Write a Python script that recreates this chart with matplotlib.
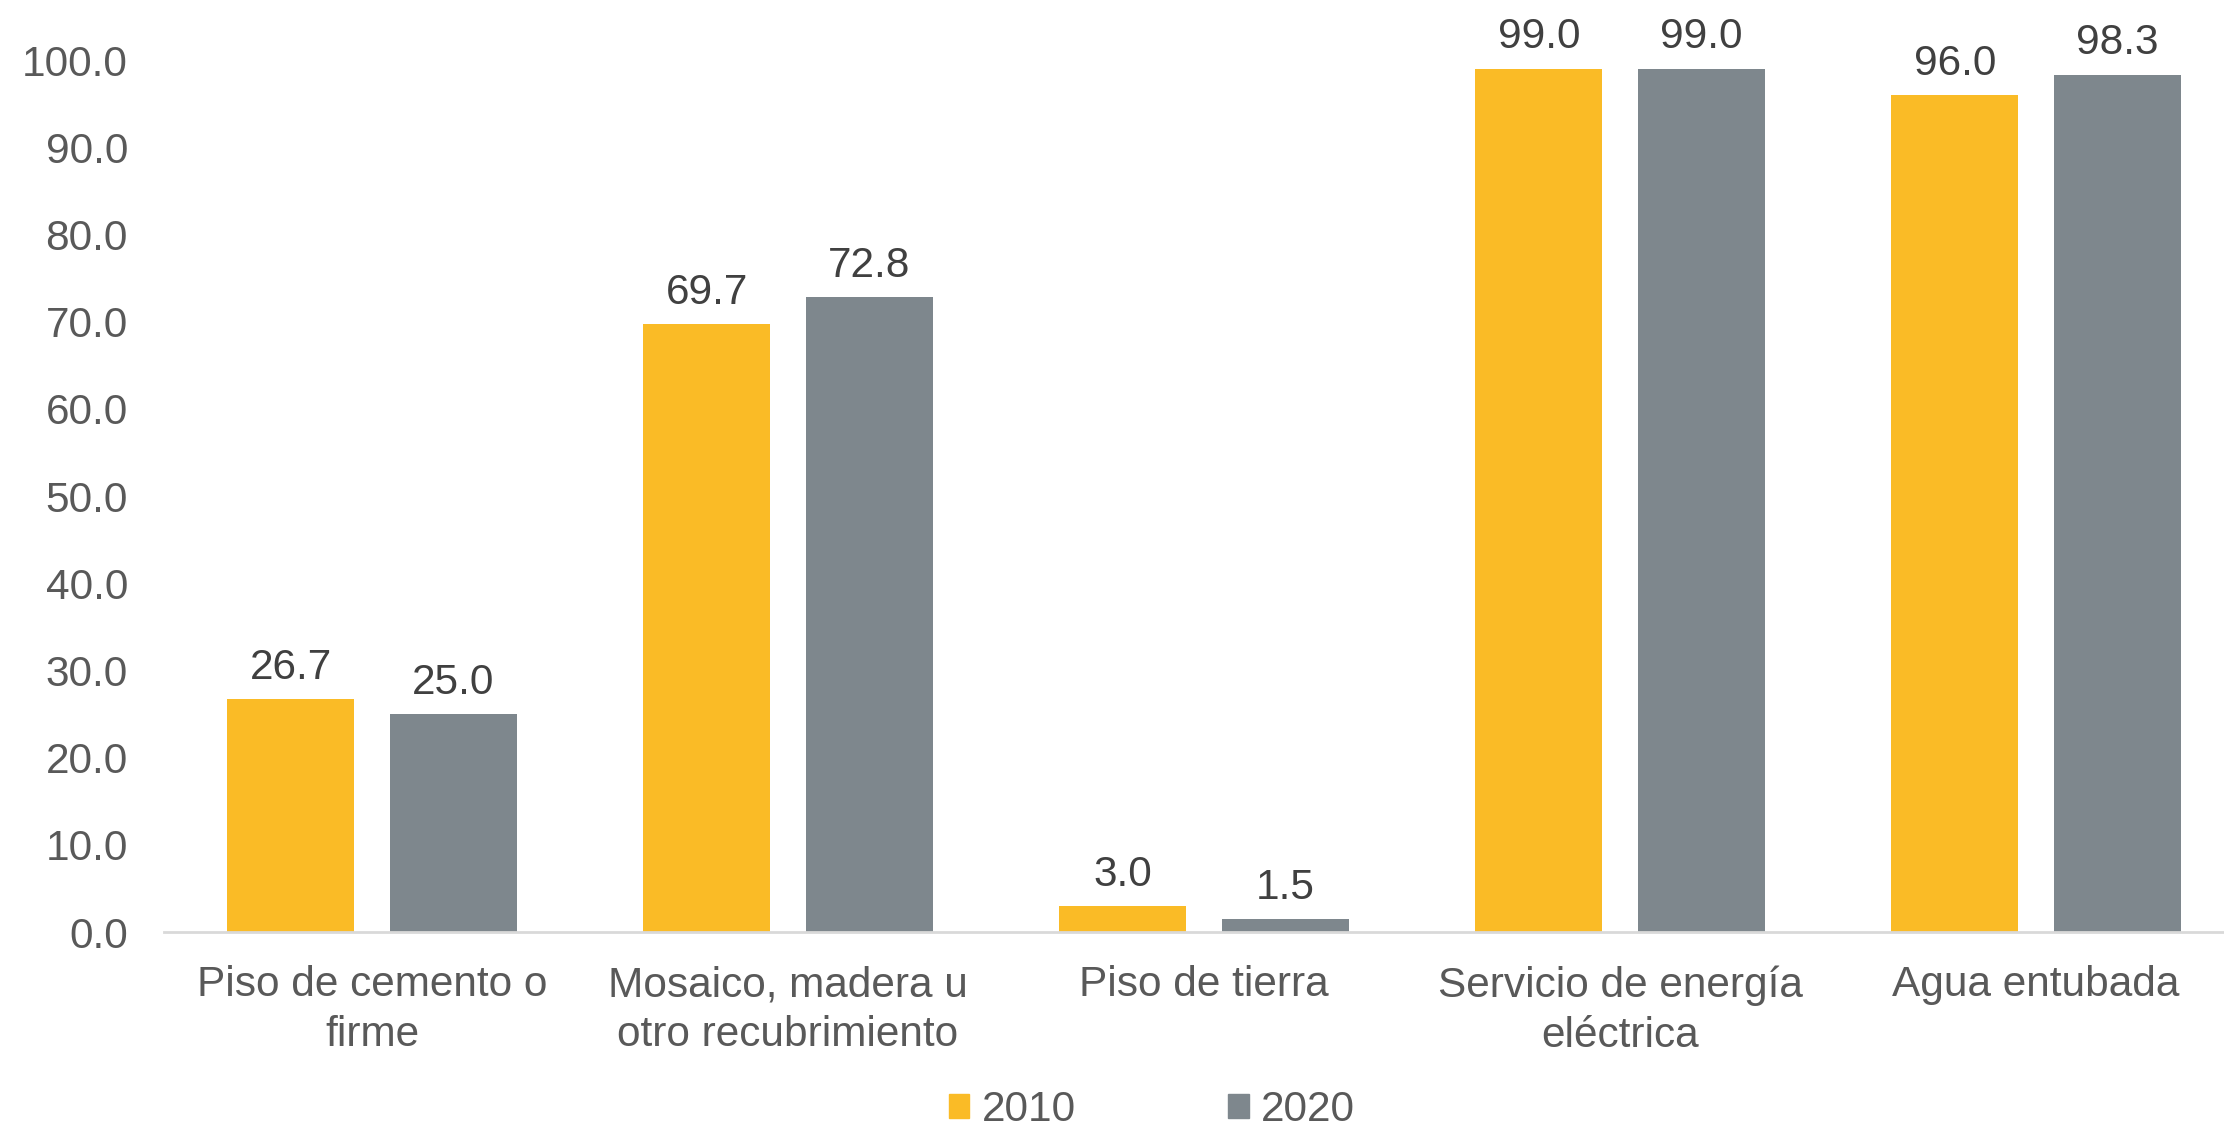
import matplotlib
matplotlib.use("Agg")
import matplotlib.pyplot as plt
import numpy as np
from matplotlib.patches import Patch

categories = ["Piso de cemento o\nfirme", "Mosaico, madera u\notro recubrimiento",
              "Piso de tierra", "Servicio de energía\neléctrica", "Agua entubada"]
series_names = ["2010", "2020"]
values_2010 = [26.7, 69.7, 3.0, 99.0, 96.0]
values_2020 = [25.0, 72.8, 1.5, 99.0, 98.3]
yticks = [0, 10, 20, 30, 40, 50, 60, 70, 80, 90, 100]

colors = ["#FABB26", "#7E878D"]
plt.rcParams['font.family'] = ['Liberation Sans', 'DejaVu Sans']

W, H = 2224, 1126
fig = plt.figure(figsize=(W / 100, H / 100), dpi=100)
left, right = 164 / W, 2244 / W
bottom, top = (H - 932) / H, (H - 60) / H
ax = fig.add_axes([left, bottom, right - left, top - bottom])

FS = 30.5
x = np.arange(len(categories))
bw = 0.305
off = 0.195
for i, (vals, c) in enumerate(zip([values_2010, values_2020], colors)):
    pos = x + (-off if i == 0 else off)
    bars = ax.bar(pos, vals, width=bw, color=c, zorder=2)
    for b, v in zip(bars, vals):
        ax.text(b.get_x() + b.get_width() / 2, v + 1.3, f"{v:.1f}", ha="center",
                va="bottom", fontsize=FS, color="#404040", clip_on=False)

ax.set_xlim(-0.5, len(categories) - 0.5)
ax.set_ylim(0, 100)
ax.set_yticks(yticks)
ax.set_yticklabels([f"{t:.1f}" for t in yticks], fontsize=FS, color="#595959")
ax.set_xticks(x)
ax.set_xticklabels(categories, fontsize=FS, color="#595959", linespacing=1.32)
ax.tick_params(axis="y", length=0, pad=26)
ax.tick_params(axis="x", length=0, pad=24)
for s in ["top", "right", "left"]:
    ax.spines[s].set_visible(False)
ax.spines["bottom"].set_color("#D9D9D9")
ax.spines["bottom"].set_linewidth(2)

handles = [Patch(color=c, label=n) for c, n in zip(colors, series_names)]
fig.legend(handles=handles, loc="center", bbox_to_anchor=(1152 / W, 1 - 1110 / H),
           ncol=2, frameon=False, fontsize=FS, handlelength=0.48, handleheight=0.48,
           handletextpad=0.3, columnspacing=3.6, labelcolor="#595959",
           borderpad=0, borderaxespad=0)

fig.savefig("out.png", dpi=100)
